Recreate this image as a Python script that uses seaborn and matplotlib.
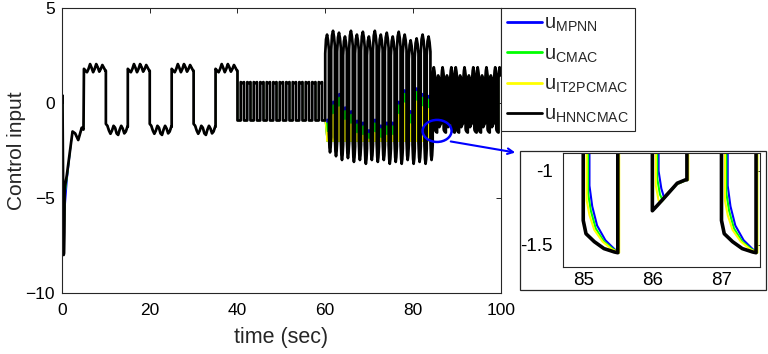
import numpy as np
import pandas as pd
import matplotlib
matplotlib.use("Agg")
import matplotlib.pyplot as plt
import seaborn as sns
from matplotlib.patches import Ellipse, Rectangle, FancyArrowPatch

# ---------------- data ----------------
series = ["MPNN", "CMAC", "IT2PCMAC", "HNNCMAC"]
series_colors = {"MPNN": "#0000ff", "CMAC": "#00ff00", "IT2PCMAC": "#ffff00", "HNNCMAC": "#000000"}
legend_labels = [r"$\mathregular{u_{MPNN}}$", r"$\mathregular{u_{CMAC}}$",
                 r"$\mathregular{u_{IT2PCMAC}}$", r"$\mathregular{u_{HNNCMAC}}$"]

# initial transient 0-5 s
init_t = {
    "HNNCMAC":  [0.0, 0.1, 0.38, 0.47, 0.55, 0.6, 1.1, 2.4, 3.0, 3.7, 4.5, 4.9],
    "IT2PCMAC": [0.0, 0.12, 0.40, 0.50, 0.58, 0.66, 1.15, 2.4, 3.0, 3.7, 4.5, 4.9],
    "CMAC":     [0.0, 0.13, 0.41, 0.51, 0.60, 0.70, 1.18, 2.4, 3.0, 3.7, 4.5, 4.9],
    "MPNN":     [0.0, 0.14, 0.42, 0.52, 0.62, 0.74, 1.20, 2.4, 3.0, 3.7, 4.5, 4.9],
}
init_u = {
    "HNNCMAC":  [0.0, 0.4, -8.0, -7.9, -6.8, -4.5, -3.8, -1.5, -1.6, -1.95, -1.3, -1.4],
    "IT2PCMAC": [-1.2, 0.2, -7.3, -7.2, -6.2, -4.4, -3.8, -1.5, -1.6, -1.95, -1.3, -1.4],
    "CMAC":     [-1.0, 0.1, -7.1, -7.0, -6.0, -4.8, -3.9, -1.5, -1.6, -1.95, -1.3, -1.4],
    "MPNN":     [-0.9, 0.0, -6.9, -6.8, -5.9, -5.4, -4.0, -1.5, -1.6, -1.95, -1.3, -1.4],
}

# slow square wave 5-40 s (half-cycles of 5 s) with ripple
sq_start = 5.0
sq_kinds = ["hi", "lo", "hi", "lo", "hi", "lo", "hi"]
sq_dur = {"hi": 5.0, "lo": 5.0}
sq_off = [0, 0.35, 0.7, 1.05, 1.4, 1.75, 2.1, 2.45, 2.8, 3.15, 3.5, 3.85, 4.2, 4.55, 4.9, 5.0]
sq_hi = [1.8, 1.7, 1.62, 1.8, 2.05, 1.85, 1.62, 1.8, 2.05, 1.88, 1.65, 1.8, 2.0, 1.85, 1.7, 1.7]
sq_lo = [-1.1, -1.2, -1.45, -1.62, -1.45, -1.2, -1.3, -1.6, -1.68, -1.4, -1.2, -1.35, -1.6, -1.5, -1.25, -1.25]

# fast square wave 40-60 s (27 half-cycles, starting low)
fast_start = 40.0
fast_kinds = ["flo", "fhi"] * 13 + ["flo"]
fast_dur = {"fhi": 20.0 / 27, "flo": 20.0 / 27}
fast_off = [0, 0.37, 0.74]
fast_hi = [1.1, 1.05, 1.1]
fast_lo = [-0.92, -0.92, -0.92]

# large oscillation 60-84.5 s (18 cycles)
big_start = 60.0
big_dur = {"bhi": 0.84, "blo": 24.5 / 18 - 0.84}
big_hi_lvl = [3.6, 3.8, 3.7, 3.5, 3.8, 3.6, 3.75, 3.5, 3.8, 3.6, 3.7, 3.5, 3.75, 3.6, 3.3, 3.4, 3.6, 3.5]
big_lo_lvl = [-2.6, -2.8, -3.0, -2.9, -3.1, -3.0, -3.2, -3.0, -3.1, -3.0, -3.2, -3.1, -3.2, -3.0, -3.2, -3.1, -3.2, -3.0]
big_hi_off = [0, 0.18, 0.42, 0.64, 0.84]
big_hi_dv = [-1.0, -0.25, 0.0, -0.3, -0.8]
big_lo_off = [0, 0.13, 0.26, 0.39, 0.52]
big_lo_dv = [1.0, 0.25, 0.0, 0.25, 0.8]
# short peaks of the slower controllers inside each large high half-cycle
big_top_mpnn = [-0.85, 0.1, 0.5, -0.2, -0.4, -0.9, -1.0, -1.4, -0.85, -1.15, -1.0, -1.0, 0.1, 0.7, -0.4, 0.8, 0.5, 0.4]
big_top_cmac = [-1.05, -0.1, 0.3, -0.4, -0.6, -1.1, -1.2, -1.6, -1.05, -1.35, -1.2, -1.2, -0.1, 0.5, -0.6, 0.6, 0.3, 0.2]
big_top_it2 = [-1.55, -0.6, -0.2, -0.9, -1.1, -1.6, -1.7, -1.9, -1.55, -1.85, -1.7, -1.7, -0.6, 0.0, -1.1, 0.1, -0.2, -0.3]
big_bottom_slow = -2.0
big_peak_width = 0.05

# final 1-s square wave 84.5-100 s
end_start = 84.5
end_dur = {"ht": 0.5, "hs": 0.5, "d": 0.5, "s": 0.5}
end_kinds = ["ht", "d", "hs", "s", "ht", "d", "hs", "s", "ht", "d", "ht", "d", "hs", "s", "ht", "d",
             "hs", "s", "ht", "d", "ht", "d", "hs", "s", "ht", "d", "hs", "s", "ht", "d", "ht"]
end_shapes = {
    "HNNCMAC": {
        "ht": ([0, 0.12, 0.25, 0.38, 0.5], [1.3, 1.7, 1.88, 1.7, 1.45]),
        "hs": ([0, 0.12, 0.25, 0.38, 0.5], [1.2, 1.35, 1.45, 1.35, 1.25]),
        "d": ([0, 0.04, 0.16, 0.30, 0.45, 0.5], [-1.336, -1.426, -1.48, -1.527, -1.55, -1.555]),
        "s": ([0, 0.07, 0.22, 0.36, 0.48, 0.5], [-1.27, -1.235, -1.157, -1.083, -1.06, -1.06]),
    },
    "IT2PCMAC": {
        "d": ([0, 0.04, 0.11, 0.23, 0.36, 0.47], [-1.2, -1.3, -1.4, -1.48, -1.53, -1.555]),
        "s": ([0, 0.04, 0.08, 0.15, 0.30, 0.45], [-1.1, -1.2, -1.21, -1.16, -1.09, -1.06]),
    },
    "CMAC": {
        "d": ([0, 0.04, 0.11, 0.23, 0.36, 0.45], [-1.15, -1.27, -1.39, -1.48, -1.53, -1.555]),
        "s": ([0, 0.04, 0.08, 0.13, 0.28, 0.43], [-1.05, -1.16, -1.2, -1.17, -1.09, -1.06]),
    },
    "MPNN": {
        "d": ([0, 0.04, 0.11, 0.23, 0.36, 0.43], [-1.1, -1.24, -1.37, -1.47, -1.53, -1.555]),
        "s": ([0, 0.04, 0.08, 0.11, 0.26, 0.41], [-1.0, -1.12, -1.18, -1.16, -1.09, -1.06]),
    },
}
for s in ["IT2PCMAC", "CMAC", "MPNN"]:
    end_shapes[s]["ht"] = end_shapes["HNNCMAC"]["ht"]
    end_shapes[s]["hs"] = end_shapes["HNNCMAC"]["hs"]

# delay of each controller output behind the HNNCMAC edges (s)
lag_sq = {"HNNCMAC": 0.0, "IT2PCMAC": 0.02, "CMAC": 0.03, "MPNN": 0.04}
lag_fast = {"HNNCMAC": 0.0, "IT2PCMAC": 0.03, "CMAC": 0.04, "MPNN": 0.05}
lag_big = {"IT2PCMAC": 0.41, "CMAC": 0.42, "MPNN": 0.43}
lag_end_up = {"HNNCMAC": 0.0, "IT2PCMAC": 0.02, "CMAC": 0.015, "MPNN": 0.01}
lag_end_dn = {"HNNCMAC": 0.0, "IT2PCMAC": 0.05, "CMAC": 0.07, "MPNN": 0.09}


def build(t0, kinds, durs, shapes, lags, levels=None):
    """Join half-cycles (shape offsets/values) into one polyline."""
    n = len(kinds)
    starts = [t0]
    for k in kinds:
        starts.append(starts[-1] + durs[k])
    ts, vs = [], []
    for i, k in enumerate(kinds):
        s = starts[i] + lags[k]
        e = starts[i + 1] + (lags[kinds[i + 1]] if i + 1 < n else 0.0)
        off, val = shapes[k]
        lv = 0.0 if levels is None else levels[i]
        tt = list(np.minimum(s + np.asarray(off, float), e))
        vv = list(lv + np.asarray(val, float))
        if tt[-1] < e:
            tt.append(e)
            vv.append(vv[-1])
        ts += tt
        vs += vv
    return ts, vs


slow_tops = {"IT2PCMAC": big_top_it2, "CMAC": big_top_cmac, "MPNN": big_top_mpnn}
cycle = big_dur["bhi"] + big_dur["blo"]

frames = []
for name in series:
    t_all = list(init_t[name])
    u_all = list(init_u[name])
    ts, vs = build(sq_start, sq_kinds, sq_dur,
                   {"hi": (sq_off, sq_hi), "lo": (sq_off, sq_lo)},
                   {"hi": lag_sq[name], "lo": lag_sq[name]})
    t_all += ts; u_all += vs
    ts, vs = build(fast_start, fast_kinds, fast_dur,
                   {"fhi": (fast_off, fast_hi), "flo": (fast_off, fast_lo)},
                   {"fhi": lag_fast[name], "flo": lag_fast[name]})
    t_all += ts; u_all += vs
    if name == "HNNCMAC":
        bk, bl = [], []
        for h, l in zip(big_hi_lvl, big_lo_lvl):
            bk += ["bhi", "blo"]
            bl += [h, l]
        ts, vs = build(big_start, bk, big_dur,
                       {"bhi": (big_hi_off, big_hi_dv), "blo": (big_lo_off, big_lo_dv)},
                       {"bhi": 0.0, "blo": 0.0}, levels=bl)
    else:
        ts, vs = [], []
        for i, top in enumerate(slow_tops[name]):
            a = big_start + i * cycle + lag_big[name]
            ts += [a, a, a + big_peak_width, a + big_peak_width]
            vs += [big_bottom_slow, top, top, big_bottom_slow]
    t_all += ts; u_all += vs
    ts, vs = build(end_start, end_kinds, end_dur, end_shapes[name],
                   {"ht": lag_end_up[name], "hs": lag_end_up[name],
                    "d": lag_end_dn[name], "s": lag_end_dn[name]})
    t_all += ts; u_all += vs
    frames.append(pd.DataFrame({"t": t_all, "u": u_all, "series": name}))
df = pd.concat(frames, ignore_index=True)

# ---------------- style ----------------
sns.set_style("white")
plt.rcParams["font.family"] = ["Liberation Sans", "DejaVu Sans"]
plt.rcParams["mathtext.fontset"] = "custom"
plt.rcParams["mathtext.rm"] = "Liberation Sans"
plt.rcParams["mathtext.it"] = "Liberation Sans:italic"
plt.rcParams["axes.edgecolor"] = "#262626"
plt.rcParams["axes.linewidth"] = 0.8

W, H = 768, 354
fig = plt.figure(figsize=(W / 100, H / 100), dpi=100)


def fx(px):
    return px / W


def fy(py):
    return 1 - py / H


ax = fig.add_axes([fx(62), fy(293), fx(500.7) - fx(62), fy(8) - fy(293)])
lw_main = {"HNNCMAC": 1.95, "IT2PCMAC": 0.9, "CMAC": 0.9, "MPNN": 0.9}
for name, lab in zip(series, legend_labels):
    sub = df[df.series == name]
    sns.lineplot(data=sub, x="t", y="u", sort=False, estimator=None, color=series_colors[name],
                 lw=lw_main[name], ax=ax, label=lab, legend=False)

ax.set_xlim(0, 100)
ax.set_ylim(-10, 5)
ax.set_xticks([0, 20, 40, 60, 80, 100])
ax.set_yticks([-10, -5, 0, 5])
ax.tick_params(direction="in", length=3.5, width=0.7, top=True, right=True, labelsize=12.5,
               colors="#262626", labelcolor="black")
ax.tick_params(axis="x", pad=7)
ax.tick_params(axis="y", pad=5)
ax.set_xlabel("time (sec)", fontsize=15.5, labelpad=7)
ax.set_ylabel("Control input", fontsize=15, labelpad=0)

handles = ax.get_lines()[:4]
leg = ax.legend(handles, legend_labels, loc="upper left", bbox_to_anchor=(1.0, 1.0),
                borderaxespad=0, fontsize=14.5, frameon=True, fancybox=False, framealpha=1,
                edgecolor="#262626", handlelength=1.75, handletextpad=0.1, labelspacing=0.5,
                borderpad=0.3)
leg.get_frame().set_linewidth(0.8)
for ln in leg.get_lines():
    ln.set_linewidth(2.0)

# zoom marker
ax.add_patch(Ellipse((85.5, -1.47), 6.6, 1.16, fill=False, edgecolor="#0000ff", lw=1.8, zorder=10))
fig.add_artist(FancyArrowPatch((fx(448), fy(141)), (fx(518), fy(153)),
               transform=fig.transFigure, arrowstyle="->", mutation_scale=10,
               color="#0000ff", lw=1.5))

# inset frame + inset axes
frame = Rectangle((fx(520), fy(290)), fx(766) - fx(520), fy(151) - fy(290),
                  transform=fig.transFigure, facecolor="white", edgecolor="#262626", lw=0.9, zorder=-1)
fig.add_artist(frame)
axi = fig.add_axes([fx(562.5), fy(266.7), fx(759.5) - fx(562.5), fy(153.3) - fy(266.7)])
axi.set_zorder(5)
lw_in = {"HNNCMAC": 2.6, "IT2PCMAC": 1.5, "CMAC": 1.5, "MPNN": 1.5}
win = df[(df.t > 84.0) & (df.t < 88.2)]
for name in series:
    sub = win[win.series == name]
    sns.lineplot(data=sub, x="t", y="u", sort=False, estimator=None, color=series_colors[name],
                 lw=lw_in[name], ax=axi, legend=False)
axi.set_xlim(84.7, 87.55)
axi.set_ylim(-1.65, -0.88)
axi.set_xticks([85, 86, 87])
axi.set_yticks([-1.5, -1])
axi.set_yticklabels(["-1.5", "-1"])
axi.set_xlabel("")
axi.set_ylabel("")
axi.tick_params(direction="in", length=3, width=0.6, top=True, right=True, labelsize=13.5,
                colors="#262626", labelcolor="black")
axi.tick_params(axis="x", pad=4)
axi.tick_params(axis="y", pad=7)

fig.savefig("out.png", dpi=100)
